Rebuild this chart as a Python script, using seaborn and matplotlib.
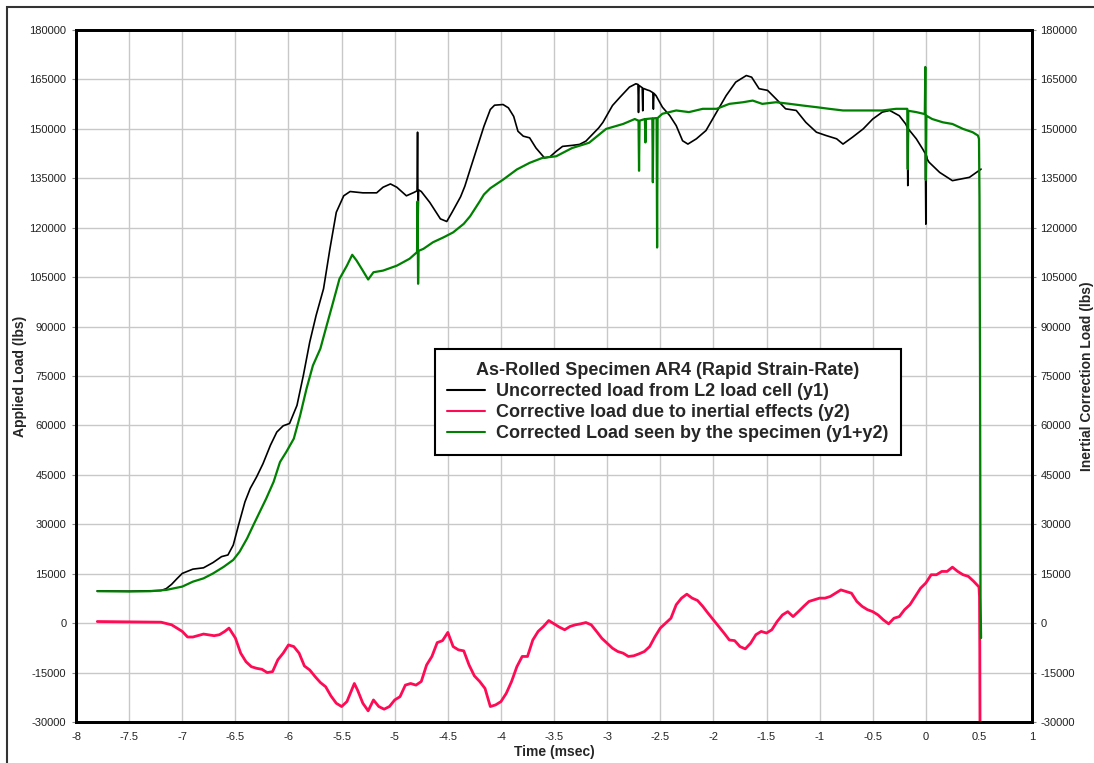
import pandas as pd
import seaborn as sns
import matplotlib.pyplot as plt
from matplotlib.patches import Rectangle
from matplotlib.lines import Line2D
from matplotlib.ticker import MultipleLocator, FuncFormatter

sns.set_style("white")
plt.rcParams["font.family"] = ["Liberation Sans", "DejaVu Sans"]
plt.rcParams["axes.unicode_minus"] = False

# ---------- data ----------
t_y1 = [-7.8, -7.5, -7.2, -7.15, -7.1, -7.05, -7.0, -6.9, -6.8, -6.71, -6.63, -6.57, -6.52, -6.47,
        -6.41, -6.36, -6.3, -6.24, -6.17, -6.11, -6.05, -5.99, -5.92, -5.86, -5.8, -5.74, -5.67,
        -5.61, -5.55, -5.48, -5.42, -5.3, -5.17, -5.11, -5.04, -4.98, -4.89, -4.82, -4.79, -4.785,
        -4.78, -4.775, -4.75, -4.67, -4.57, -4.51, -4.46, -4.38, -4.34, -4.29, -4.23, -4.16, -4.1,
        -4.06, -3.98, -3.93, -3.88, -3.84, -3.79, -3.73, -3.67, -3.59, -3.54, -3.48, -3.42, -3.33,
        -3.26, -3.2, -3.14, -3.08, -3.04, -2.95, -2.88, -2.79, -2.73, -2.71, -2.705, -2.7, -2.67,
        -2.665, -2.66, -2.62, -2.6, -2.57, -2.565, -2.56, -2.54, -2.48, -2.41, -2.35, -2.29, -2.24,
        -2.16, -2.07, -1.97, -1.88, -1.79, -1.69, -1.64, -1.57, -1.49, -1.41, -1.32, -1.22, -1.13,
        -1.03, -0.94, -0.84, -0.78, -0.69, -0.59, -0.5, -0.41, -0.34, -0.25, -0.19, -0.175, -0.17,
        -0.165, -0.09, -0.03, -0.005, 0.0, 0.005, 0.01, 0.03, 0.13, 0.25, 0.41, 0.52]
y1 = [9800, 9700, 9900, 10500, 11800, 13500, 15100, 16400, 16800, 18400, 20200, 20700, 23700, 29800,
      36800, 40900, 44400, 48400, 54000, 58000, 59900, 60600, 66100, 75200, 85300, 93400, 101500,
      113600, 124700, 129700, 131000, 130600, 130600, 132300, 133300, 132300, 129700, 130700, 131200, 149000,
      122000, 131500, 131000, 127700, 122700, 121900, 124700, 129400, 132600, 137700, 143700, 150800, 155900,
      157200, 157400, 156400, 153800, 149300, 147800, 147300, 144200, 141200, 141500, 143200, 144700, 145000,
      145300, 146300, 148300, 150300, 152000, 157100, 159600, 162700, 163700, 163500, 155000, 163200, 162500,
      155500, 162300, 161800, 161600, 161000, 156000, 160800, 160100, 156600, 154000, 151000, 146400, 145400,
      147000, 149500, 155100, 160100, 164200, 166200, 165700, 162200, 161700, 159100, 156100, 155600, 152000,
      149000, 148000, 147000, 145400, 147500, 150000, 153000, 155100, 155600, 154000, 151500, 150500, 132800,
      150000, 147000, 143900, 142500, 121100, 141900, 141000, 139900, 136800, 134300, 135300, 137800]

t_y2 = [-7.8, -7.5, -7.2, -7.1, -7.0, -6.95, -6.9, -6.8, -6.7, -6.65, -6.6, -6.56, -6.5, -6.45, -6.4,
        -6.35, -6.3, -6.25, -6.2, -6.15, -6.1, -6.05, -6.0, -5.95, -5.9, -5.85, -5.8, -5.75, -5.7,
        -5.65, -5.6, -5.55, -5.5, -5.45, -5.38, -5.35, -5.3, -5.25, -5.2, -5.15, -5.1, -5.05, -5.0,
        -4.95, -4.9, -4.85, -4.8, -4.75, -4.7, -4.65, -4.6, -4.55, -4.5, -4.45, -4.4, -4.35, -4.3,
        -4.25, -4.2, -4.15, -4.1, -4.05, -4.0, -3.95, -3.9, -3.85, -3.8, -3.75, -3.7, -3.65, -3.6,
        -3.55, -3.5, -3.45, -3.4, -3.35, -3.3, -3.25, -3.2, -3.15, -3.1, -3.05, -3.0, -2.95, -2.9,
        -2.85, -2.8, -2.75, -2.7, -2.65, -2.6, -2.55, -2.5, -2.45, -2.4, -2.35, -2.3, -2.25, -2.2,
        -2.15, -2.1, -2.05, -2.0, -1.95, -1.9, -1.85, -1.8, -1.75, -1.7, -1.65, -1.6, -1.55, -1.5,
        -1.45, -1.4, -1.35, -1.3, -1.25, -1.2, -1.15, -1.1, -1.05, -1.0, -0.95, -0.9, -0.85, -0.8,
        -0.75, -0.7, -0.65, -0.6, -0.55, -0.5, -0.45, -0.4, -0.35, -0.3, -0.25, -0.2, -0.15, -0.1,
        -0.05, 0.0, 0.05, 0.1, 0.15, 0.2, 0.25, 0.3, 0.35, 0.4, 0.45, 0.5, 0.505, 0.508, 0.51]
y2 = [500, 400, 300, -500, -2500, -4200, -4200, -3300, -3800, -3500, -2500, -1500, -4500, -9100, -11700,
      -13200, -13700, -14000, -15000, -14700, -11100, -9100, -6600, -7100, -9100, -13000, -14200, -16200, -18000,
      -19300, -22100, -24300, -25300, -23800, -18300, -20300, -24300, -26600, -23300, -25300, -26100, -25300, -23300,
      -22300, -18800, -18300, -18800, -17700, -12700, -10100, -5900, -5300, -2800, -7100, -8100, -8400, -12700,
      -16000, -17700, -19800, -25300, -24800, -23800, -21300, -17700, -13200, -10100, -10100, -5100, -2500, -1000,
      800, -200, -1200, -2000, -1000, -500, -200, 200, -500, -2500, -4600, -6100, -7600, -8600,
      -9100, -10100, -9900, -9300, -8600, -7100, -4100, -1500, 0, 1500, 5600, 7600, 8800, 7600,
      6900, 5100, 3000, 1000, -1000, -3000, -5100, -5300, -7100, -7800, -6100, -3500, -2500, -3000,
      -2000, 500, 2500, 3500, 2000, 3500, 5100, 6600, 7100, 7600, 7600, 8100, 9100, 10100,
      9600, 9100, 6600, 5100, 4100, 3500, 2500, 1000, -200, 1500, 2000, 4100, 5600, 8100,
      10600, 12200, 14700, 14700, 15700, 15700, 17000, 15700, 14700, 14200, 12700, 11000, 8000, -8000, -32000]

t_y12 = [-7.8, -7.5, -7.3, -7.15, -7.0, -6.9, -6.8, -6.71, -6.61, -6.52, -6.46, -6.39, -6.33, -6.27,
         -6.21, -6.14, -6.08, -6.02, -5.95, -5.89, -5.83, -5.77, -5.7, -5.64, -5.58, -5.52, -5.45,
         -5.4, -5.36, -5.31, -5.25, -5.2, -5.11, -4.98, -4.86, -4.79, -4.785, -4.78, -4.775, -4.73,
         -4.64, -4.54, -4.45, -4.35, -4.29, -4.2, -4.16, -4.1, -3.98, -3.85, -3.73, -3.61, -3.48,
         -3.33, -3.17, -3.01, -2.85, -2.74, -2.705, -2.7, -2.695, -2.645, -2.64, -2.635, -2.575, -2.57,
         -2.565, -2.535, -2.53, -2.525, -2.48, -2.35, -2.23, -2.1, -1.97, -1.85, -1.72, -1.63, -1.54,
         -1.41, -1.28, -1.16, -1.03, -0.91, -0.78, -0.65, -0.53, -0.41, -0.28, -0.175, -0.17, -0.165,
         -0.09, -0.01, -0.005, 0.0, 0.005, 0.06, 0.16, 0.25, 0.35, 0.44, 0.49, 0.5, 0.505, 0.51,
         0.515, 0.52]
y12 = [9700, 9600, 9700, 10100, 11100, 12600, 13600, 15100, 17100, 19200, 21700, 25700, 29800, 33800,
       37800, 42900, 48900, 52000, 56000, 63100, 71200, 78200, 83300, 90400, 97400, 104500, 108500,
       111800, 110100, 107500, 104300, 106500, 107000, 108500, 110600, 112600, 128000, 103000, 113000, 113600,
       115600, 117100, 118600, 121200, 123500, 128000, 130100, 132000, 134600, 137700, 139700, 141200, 141700,
       144200, 145800, 150000, 151500, 153000, 152500, 137300, 152500, 153000, 145900, 153000, 153200, 133800,
       153200, 153300, 114000, 153300, 154600, 155600, 155100, 156100, 156100, 157600, 158100, 158600, 157600,
       158100, 157600, 157100, 156600, 156100, 155600, 155600, 155600, 155600, 156100, 156100, 137800, 155500,
       155100, 154500, 168800, 134500, 154000, 153000, 152000, 151500, 150000, 149000, 148000, 147000, 129000, 80000,
       8000, -4500]

series_labels = ["Uncorrected load from L2 load cell (y1)",
                 "Corrective load due to inertial effects (y2)",
                 "Corrected Load seen by the specimen (y1+y2)"]
series_colors = ["#000000", "#ff0a55", "#008000"]

df1 = pd.DataFrame({"time": t_y1, "load": y1})
df2 = pd.DataFrame({"time": t_y2, "load": y2})
df12 = pd.DataFrame({"time": t_y12, "load": y12})

# ---------- figure ----------
fig = plt.figure(figsize=(10.94, 7.63), dpi=100)
ax = fig.add_axes([0.0695, 0.0537, 0.8739, 0.9069])

sns.lineplot(data=df1, x="time", y="load", color=series_colors[0], lw=1.2,
             estimator=None, sort=False, ax=ax)
sns.lineplot(data=df2, x="time", y="load", color=series_colors[1], lw=2.0,
             estimator=None, sort=False, ax=ax)
sns.lineplot(data=df12, x="time", y="load", color=series_colors[2], lw=1.6,
             estimator=None, sort=False, ax=ax)

ax.set_xlim(-8, 1)
ax.set_ylim(-30000, 180000)
ax.xaxis.set_major_locator(MultipleLocator(0.5))
ax.yaxis.set_major_locator(MultipleLocator(15000))
ax.xaxis.set_major_formatter(FuncFormatter(lambda v, p: "%g" % v))
ax.grid(True, color="#c8c8c8", lw=1)
ax.set_axisbelow(True)
for s in ax.spines.values():
    s.set_linewidth(2)
    s.set_color("black")

ax.tick_params(axis="both", labelsize=8, labelcolor="#222222", length=3, color="#888888", pad=4)
ax.set_xlabel("Time (msec)", fontsize=10, fontweight="bold", labelpad=2)
ax.set_ylabel("Applied Load (lbs)", fontsize=10, fontweight="bold", labelpad=2)

ax2 = ax.twinx()
ax2.set_ylim(-30000, 180000)
ax2.yaxis.set_major_locator(MultipleLocator(15000))
ax2.tick_params(axis="y", labelsize=8, labelcolor="#222222", length=3, color="#888888", pad=3)
ax2.set_ylabel("Inertial Correction Load (lbs)", fontsize=10, fontweight="bold", labelpad=2)
for s in ax2.spines.values():
    s.set_linewidth(2)
    s.set_color("black")

handles = [Line2D([], [], color=c, lw=1.5) for c in series_colors]
leg = ax.legend(handles, series_labels, title="As-Rolled Specimen AR4 (Rapid Strain-Rate)",
                loc="upper left", bbox_to_anchor=(0.375, 0.5386), borderaxespad=0, fancybox=False,
                framealpha=1, edgecolor="black", prop={"weight": "bold", "size": 13},
                handlelength=2.1, handletextpad=0.6, labelspacing=0.23, borderpad=0.7)
leg.get_title().set_fontweight("bold")
leg.get_title().set_fontsize(13)
leg.get_frame().set_linewidth(1.5)

# outer frame of the picture
fig.patches.append(Rectangle((7 / 1094, -0.05), 1.1, 756 / 763 + 0.05, transform=fig.transFigure,
                             fill=False, edgecolor="#333333", lw=1.5))

fig.savefig("out.png", dpi=100)
